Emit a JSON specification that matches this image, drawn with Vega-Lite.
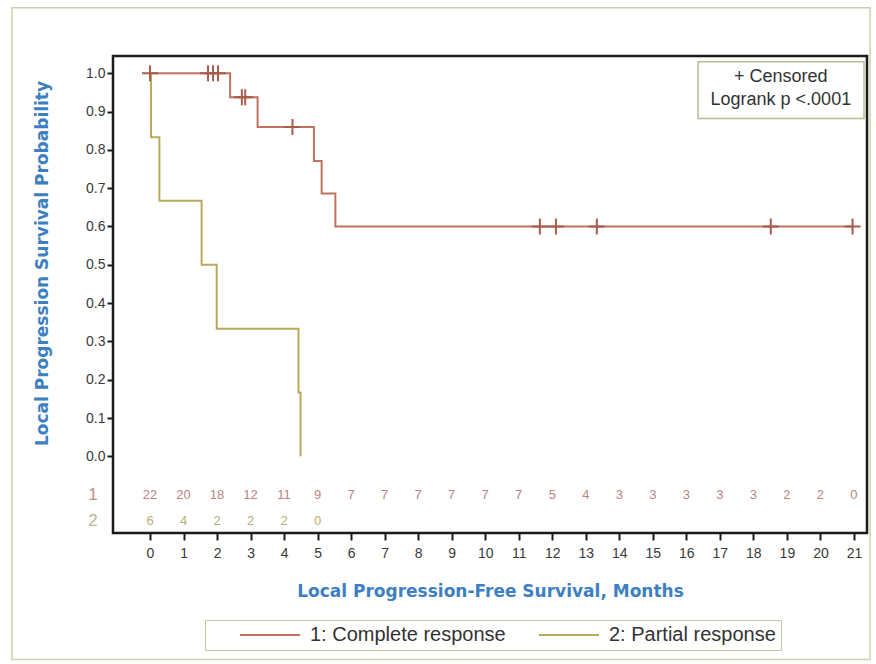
{
  "$schema": "https://vega.github.io/schema/vega-lite/v6.json",
  "autosize": "none",
  "width": 754,
  "height": 477,
  "padding": {"left": 113, "top": 56, "right": 9, "bottom": 131},
  "background": "white",
  "config": {
    "view": {"stroke": "#1a1a1a", "strokeWidth": 2.5},
    "axis": {"labelFont": "Liberation Sans", "labelFontSize": 14, "labelColor": "#3a3a3a", "tickColor": "#1a1a1a", "tickWidth": 2, "tickSize": 7, "domain": false, "grid": false, "labelOverlap": false, "titleFont": "DejaVu Sans", "titleFontWeight": "bold", "titleFontSize": 17, "titleColor": "#3d7fc1"}
  },
  "datasets": {
    "curves": [
      {"group": "1: Complete response", "time": 0, "surv": 1},
      {"group": "1: Complete response", "time": 2.39, "surv": 0.9375},
      {"group": "1: Complete response", "time": 3.21, "surv": 0.86},
      {"group": "1: Complete response", "time": 4.89, "surv": 0.771},
      {"group": "1: Complete response", "time": 5.12, "surv": 0.686},
      {"group": "1: Complete response", "time": 5.53, "surv": 0.6},
      {"group": "1: Complete response", "time": 21.0, "surv": 0.6},
      {"group": "2: Partial response", "time": 0, "surv": 1},
      {"group": "2: Partial response", "time": 0.03, "surv": 0.833},
      {"group": "2: Partial response", "time": 0.28, "surv": 0.667},
      {"group": "2: Partial response", "time": 1.54, "surv": 0.5},
      {"group": "2: Partial response", "time": 1.99, "surv": 0.333},
      {"group": "2: Partial response", "time": 4.43, "surv": 0.167},
      {"group": "2: Partial response", "time": 4.49, "surv": 0}
    ],
    "censored": [
      {"time": 0, "surv": 1},
      {"time": 1.73, "surv": 1},
      {"time": 1.88, "surv": 1},
      {"time": 2.03, "surv": 1},
      {"time": 2.74, "surv": 0.9375},
      {"time": 2.84, "surv": 0.9375},
      {"time": 4.25, "surv": 0.86},
      {"time": 11.63, "surv": 0.6},
      {"time": 12.11, "surv": 0.6},
      {"time": 13.33, "surv": 0.6},
      {"time": 18.52, "surv": 0.6},
      {"time": 20.96, "surv": 0.6}
    ],
    "atrisk": [
      {"grp": "1", "time": 0, "n": 22}, {"grp": "1", "time": 1, "n": 20}, {"grp": "1", "time": 2, "n": 18},
      {"grp": "1", "time": 3, "n": 12}, {"grp": "1", "time": 4, "n": 11}, {"grp": "1", "time": 5, "n": 9},
      {"grp": "1", "time": 6, "n": 7}, {"grp": "1", "time": 7, "n": 7}, {"grp": "1", "time": 8, "n": 7},
      {"grp": "1", "time": 9, "n": 7}, {"grp": "1", "time": 10, "n": 7}, {"grp": "1", "time": 11, "n": 7},
      {"grp": "1", "time": 12, "n": 5}, {"grp": "1", "time": 13, "n": 4}, {"grp": "1", "time": 14, "n": 3},
      {"grp": "1", "time": 15, "n": 3}, {"grp": "1", "time": 16, "n": 3}, {"grp": "1", "time": 17, "n": 3},
      {"grp": "1", "time": 18, "n": 3}, {"grp": "1", "time": 19, "n": 2}, {"grp": "1", "time": 20, "n": 2},
      {"grp": "1", "time": 21, "n": 0},
      {"grp": "2", "time": 0, "n": 6}, {"grp": "2", "time": 1, "n": 4}, {"grp": "2", "time": 2, "n": 2},
      {"grp": "2", "time": 3, "n": 2}, {"grp": "2", "time": 4, "n": 2}, {"grp": "2", "time": 5, "n": 0}
    ]
  },
  "layer": [
    {
      "data": {"values": [{}]},
      "mark": {"type": "rect", "fill": null, "filled": false, "stroke": "#c9d2ad", "strokeWidth": 1.5},
      "encoding": {
        "x": {"datum": -4.12, "type": "quantitative", "scale": {"domain": [-1.104, 21.39], "nice": false, "zero": false},
              "axis": {"values": [0,1,2,3,4,5,6,7,8,9,10,11,12,13,14,15,16,17,18,19,20,21], "tickCount": 22, "labelOverlap": false, "title": "Local Progression-Free Survival, Months", "labelPadding": 6, "titlePadding": 23}},
        "x2": {"datum": 21.48},
        "y": {"datum": 1.171, "type": "quantitative", "scale": {"domain": [-0.2, 1.045], "nice": false, "zero": false},
              "axis": {"values": [0,0.1,0.2,0.3,0.4,0.5,0.6,0.7,0.8,0.9,1.0], "format": ".1f", "title": "Local Progression Survival Probability", "titleX": -71, "titleY": 207, "titleAlign": "center", "titleBaseline": "middle", "tickSize": 6}},
        "y2": {"datum": -0.53}
      }
    },
    {
      "data": {"values": [{}]},
      "mark": {"type": "rect", "fill": "white", "stroke": "#b9bd8c", "strokeWidth": 1.5},
      "encoding": {
        "x": {"datum": 16.35},
        "x2": {"datum": 21.3},
        "y": {"datum": 1.03},
        "y2": {"datum": 0.882}
      }
    },
    {
      "data": {"values": [{"t": "+ Censored", "k": 0.99}, {"t": "Logrank p <.0001", "k": 0.93}]},
      "mark": {"type": "text", "font": "Liberation Sans", "fontSize": 18, "color": "#333333", "align": "center", "baseline": "middle"},
      "encoding": {
        "x": {"datum": 18.82},
        "y": {"field": "k", "type": "quantitative"},
        "text": {"field": "t"}
      }
    },
    {
      "data": {"name": "curves"},
      "mark": {"type": "line", "interpolate": "step-after", "strokeWidth": 2},
      "encoding": {
        "x": {"field": "time", "type": "quantitative"},
        "y": {"field": "surv", "type": "quantitative"},
        "color": {"field": "group", "type": "nominal",
                  "scale": {"domain": ["1: Complete response", "2: Partial response"], "range": ["#c0725c", "#b8aa5c"]},
                  "legend": {"title": " ", "titleOrient": "left", "titlePadding": 25, "orient": "none", "legendX": 92, "legendY": 564, "direction": "horizontal", "symbolType": "M-1,0H11", "symbolSize": 100, "symbolStrokeWidth": 2, "labelOffset": 55, "labelLimit": 400, "labelFont": "Liberation Sans", "labelFontSize": 20, "labelColor": "#333333", "strokeColor": "#c3c99e", "padding": 5, "columnPadding": 28}}
      }
    },
    {
      "data": {"name": "censored"},
      "mark": {"type": "point", "shape": "M-1,0H1M0,-1V1", "filled": false, "size": 256, "strokeWidth": 2, "color": "#a85c4c", "opacity": 1},
      "encoding": {
        "x": {"field": "time", "type": "quantitative"},
        "y": {"field": "surv", "type": "quantitative"}
      }
    },
    {
      "data": {"name": "atrisk"},
      "transform": [{"filter": "datum.grp == '1'"}],
      "mark": {"type": "text", "font": "Liberation Sans", "fontSize": 13, "color": "#b8867f", "align": "center", "baseline": "middle"},
      "encoding": {
        "x": {"field": "time", "type": "quantitative"},
        "y": {"datum": -0.1},
        "text": {"field": "n"}
      }
    },
    {
      "data": {"name": "atrisk"},
      "transform": [{"filter": "datum.grp == '2'"}],
      "mark": {"type": "text", "font": "Liberation Sans", "fontSize": 13, "color": "#b6b077", "align": "center", "baseline": "middle"},
      "encoding": {
        "x": {"field": "time", "type": "quantitative"},
        "y": {"datum": -0.169},
        "text": {"field": "n"}
      }
    },
    {
      "data": {"values": [{"lab": "1"}]},
      "mark": {"type": "text", "font": "Liberation Sans", "fontSize": 17, "color": "#c08e8c", "align": "center", "baseline": "middle"},
      "encoding": {"x": {"datum": -1.7}, "y": {"datum": -0.1}, "text": {"field": "lab"}}
    },
    {
      "data": {"values": [{"lab": "2"}]},
      "mark": {"type": "text", "font": "Liberation Sans", "fontSize": 17, "color": "#b8b88c", "align": "center", "baseline": "middle"},
      "encoding": {"x": {"datum": -1.7}, "y": {"datum": -0.169}, "text": {"field": "lab"}}
    }
  ]
}
